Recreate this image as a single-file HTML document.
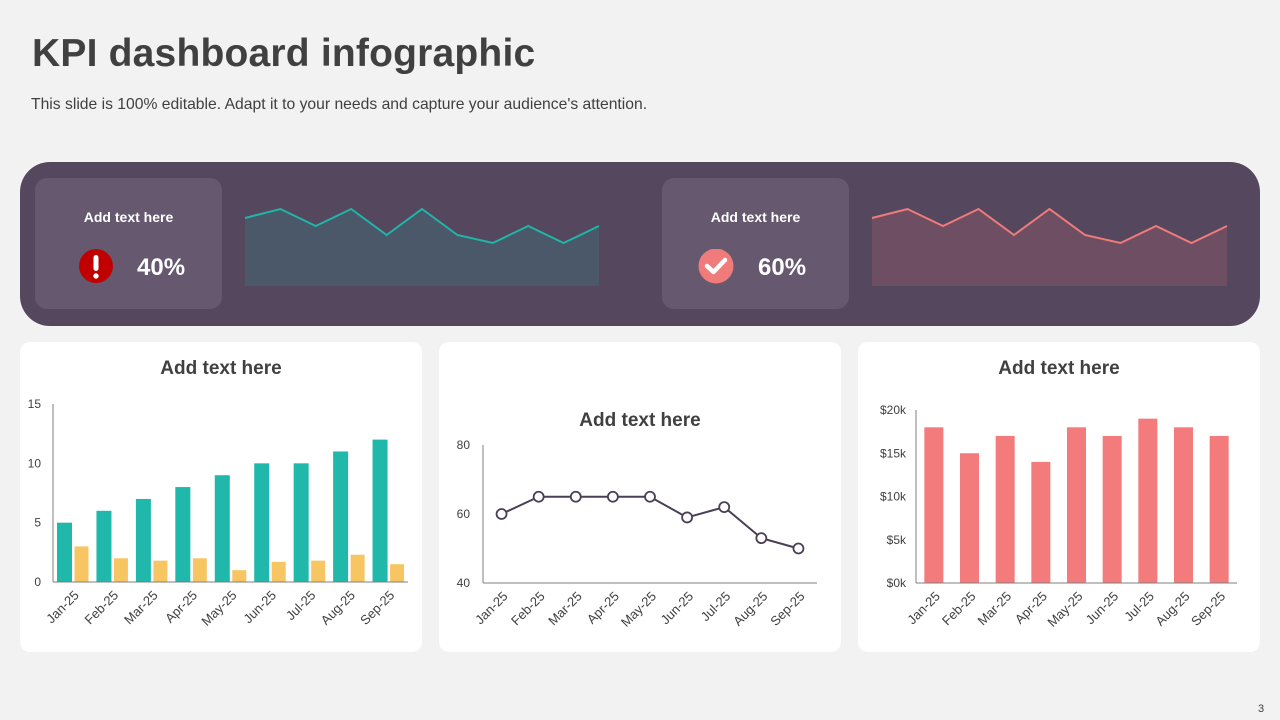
<!DOCTYPE html>
<html><head><meta charset="utf-8">
<style>
body{margin:0;width:1280px;height:720px;background:#f2f2f2;font-family:"Liberation Sans",sans-serif;position:relative;overflow:hidden}
.abs{position:absolute}
h1{position:absolute;left:32px;top:32px;margin:0;font-size:39px;font-weight:bold;color:#404040;letter-spacing:0.2px}
.sub{left:31px;top:96px;font-size:15.7px;color:#404040}
.banner{left:20px;top:162px;width:1240px;height:164px;background:#54475e;border-radius:30px}
.kpi{width:187px;height:131px;background:#65586f;border-radius:12px;top:178px}
.kt{width:100%;text-align:center;top:31px;color:#fff;font-weight:bold;font-size:14px}
.kv{color:#fff;font-weight:bold;font-size:24px;top:76px}
.card{top:342px;width:402px;height:310px;background:#fff;border-radius:10px}
.ct{width:100%;text-align:center;font-weight:bold;font-size:19px;color:#404040}
svg text{font-family:"Liberation Sans",sans-serif}
</style></head><body>
<h1>KPI dashboard infographic</h1>
<div class="abs sub">This slide is 100% editable. Adapt it to your needs and capture your audience's attention.</div>
<div class="abs banner"></div>
<div class="abs kpi" style="left:35px">
 <div class="abs kt">Add text here</div>
 <svg class="abs" style="left:44px;top:71px" width="36" height="36"><circle cx="17" cy="17" r="17" fill="#c00000"/><rect x="14.5" y="6" width="5" height="16" rx="2.5" fill="#fff"/><circle cx="17" cy="27" r="2.7" fill="#fff"/></svg>
 <div class="abs kv" style="left:102px">40%</div>
</div>
<div class="abs kpi" style="left:662px">
 <div class="abs kt">Add text here</div>
 <svg class="abs" style="left:36px;top:71px" width="36" height="36"><circle cx="18" cy="17" r="17.5" fill="#f07b7b"/><path d="M9 17 L15.5 23 L27 11" stroke="#fff" stroke-width="4.5" fill="none" stroke-linecap="round" stroke-linejoin="round"/></svg>
 <div class="abs kv" style="left:96px">60%</div>
</div>
<svg class="abs" id="spark1" style="left:0;top:0" width="1280" height="720"></svg>
<div class="abs card" style="left:20px"><div class="abs ct" style="top:16px">Add text here</div></div>
<div class="abs card" style="left:439px"><div class="abs ct" style="top:68px">Add text here</div></div>
<div class="abs card" style="left:858px"><div class="abs ct" style="top:16px">Add text here</div></div>
<svg class="abs" id="charts" style="left:0;top:0" width="1280" height="720"></svg>
<div class="abs" style="left:1258px;top:703px;font-size:11px;color:#404040">3</div>
<script>
const months=["Jan-25","Feb-25","Mar-25","Apr-25","May-25","Jun-25","Jul-25","Aug-25","Sep-25"];
const sparkValues=[68,77,60,77,51,77,51,43,60,43,60];
const barSeriesA=[5,6,7,8,9,10,10,11,12];
const barSeriesB=[3,2,1.8,2,1,1.7,1.8,2.3,1.5];
const barTicks=[0,5,10,15];
const lineValues=[60,65,65,65,65,59,62,53,50];
const lineTicks=[40,60,80];
const revenueValues=[18,15,17,14,18,17,19,18,17];
const revenueTicks=["$0k","$5k","$10k","$15k","$20k"];
const revenueTickVals=[0,5,10,15,20];

const NS="http://www.w3.org/2000/svg";
function mk(parent,tag,attrs,text){const e=document.createElementNS(NS,tag);for(const k in attrs)e.setAttribute(k,attrs[k]);if(text!==undefined)e.textContent=text;parent.appendChild(e);return e;}
const sp=document.getElementById('spark1');
function spark(x0,x1,bottom,stroke,fill,nm){
  const sx=i=>x0+(x1-x0)*i/(sparkValues.length-1), sy=v=>bottom-v;
  let pts=sparkValues.map((v,i)=>sx(i)+","+sy(v)).join(" ");
  const a=mk(sp,'polygon',{points:x0+","+bottom+" "+pts+" "+x1+","+bottom,fill:fill});
  
  
  const l=mk(sp,'polyline',{points:pts,fill:'none',stroke:stroke,'stroke-width':2});
  
  
}
spark(245,599,286,'#1fb5a8','#4a5869','sparkline-1');
spark(872,1227,286,'#f07b7b','#6e4e62','sparkline-2');

const ch=document.getElementById('charts');
function xLabels(x0,cw,y){months.forEach((m,i)=>{const cx=x0+cw*(i+0.5);const t=mk(ch,'text',{x:cx+7,y:y,'font-size':13,fill:'#404040','text-anchor':'end',transform:`rotate(-45 ${cx+7} ${y})`},m);

});}
function axes(x0,x1,yb,yt){mk(ch,'line',{x1:x0,y1:yt,x2:x0,y2:yb,stroke:'#7f7f7f','stroke-width':1});mk(ch,'line',{x1:x0,y1:yb,x2:x1,y2:yb,stroke:'#7f7f7f','stroke-width':1});}

// chart 1
(function(){const x0=53,x1=408,yb=582,yt=404,max=15,cw=(x1-x0)/9;const y=v=>yb-(yb-yt)*v/max;
barTicks.forEach(t=>{const e=mk(ch,'text',{x:41,y:y(t)+4,'font-size':12,fill:'#404040','text-anchor':'end'},t);});
barSeriesA.forEach((v,i)=>{const r=mk(ch,'rect',{x:x0+cw*i+4,y:y(v),width:15,height:yb-y(v),fill:'#1fb8aa'});});
barSeriesB.forEach((v,i)=>{const r=mk(ch,'rect',{x:x0+cw*i+21.5,y:y(v),width:14,height:yb-y(v),fill:'#f7c662'});});
axes(x0,x1,yb,yt);xLabels(x0,cw,596);})();

// chart 2
(function(){const x0=483,x1=817,yb=583,yt=445,mn=40,mx=80,cw=(x1-x0)/9;const y=v=>yb-(yb-yt)*(v-mn)/(mx-mn);
lineTicks.forEach(t=>{const e=mk(ch,'text',{x:470,y:y(t)+4,'font-size':12,fill:'#404040','text-anchor':'end'},t);});
axes(x0,x1,yb,yt);
const pts=lineValues.map((v,i)=>(x0+cw*(i+0.5))+","+y(v)).join(" ");
const l=mk(ch,'polyline',{points:pts,fill:'none',stroke:'#4a3f56','stroke-width':2});
lineValues.forEach((v,i)=>{const c=mk(ch,'circle',{cx:x0+cw*(i+0.5),cy:y(v),r:5,fill:'#fff',stroke:'#4a3f56','stroke-width':1.8});});
xLabels(x0,cw,597);})();

// chart 3
(function(){const x0=916,x1=1237,yb=583,yt=410,max=20,cw=(x1-x0)/9;const y=v=>yb-(yb-yt)*v/max;
revenueTickVals.forEach((t,i)=>{const e=mk(ch,'text',{x:906,y:y(t)+4,'font-size':12,fill:'#404040','text-anchor':'end'},revenueTicks[i]);});
revenueValues.forEach((v,i)=>{const r=mk(ch,'rect',{x:x0+cw*(i+0.5)-9.5,y:y(v),width:19,height:yb-y(v),fill:'#f47b7b'});});
axes(x0,x1,yb,yt);xLabels(x0,cw,597);})();
</script>
</body></html>
